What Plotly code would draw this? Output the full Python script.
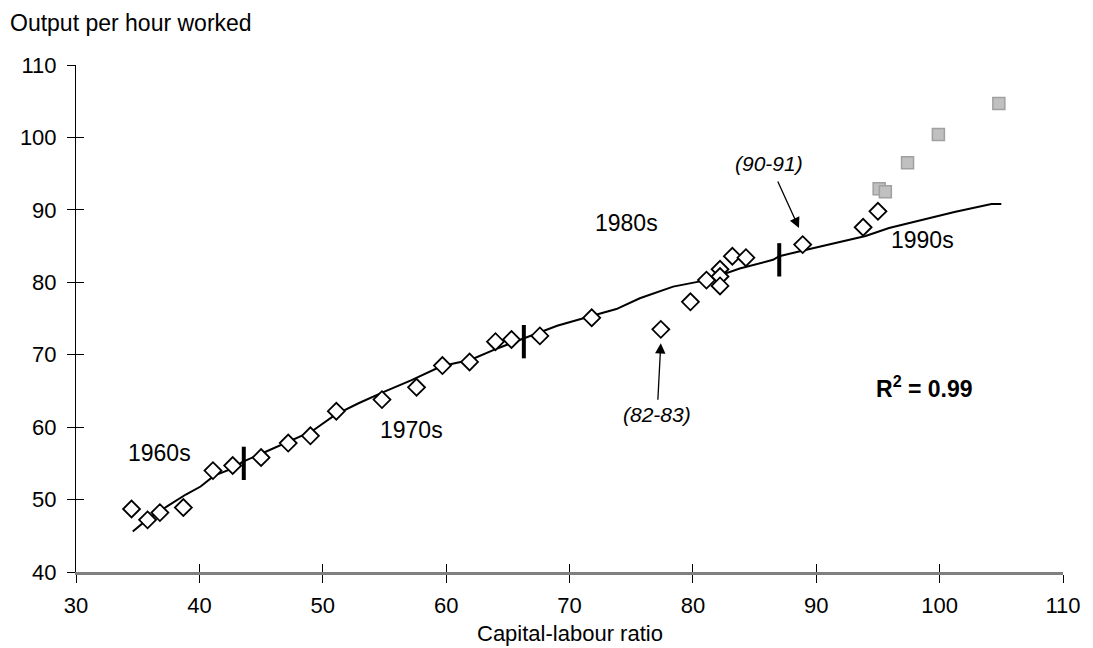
import plotly.graph_objects as go

# ---- data ----
diamond_x = [34.5, 35.8, 36.8, 38.7, 41.1, 42.7, 45.0, 47.2, 49.0, 51.1, 54.8, 57.6, 59.7, 61.9, 64.0,
             65.3, 67.6, 71.8, 77.4, 79.8, 81.1, 82.2, 82.2, 82.2, 83.2, 84.3, 88.9, 93.8, 95.0]
diamond_y = [48.7, 47.2, 48.2, 48.9, 54.0, 54.7, 55.8, 57.8, 58.8, 62.2, 63.8, 65.5, 68.5, 69.0, 71.8,
             72.1, 72.6, 75.1, 73.5, 77.3, 80.3, 81.8, 80.8, 79.5, 83.6, 83.4, 85.2, 87.6, 89.8]

square_x = [95.1, 95.6, 97.4, 99.9, 104.8]
square_y = [92.9, 92.5, 96.5, 100.4, 104.7]

trend_x = [34.6, 35.8, 37.6, 38.9, 40.1, 41.2, 42.7, 43.5, 45.1, 47.2, 49.1, 51.0, 52.9, 55.0, 57.2,
           59.6, 62.0, 64.2, 66.3, 69.0, 71.7, 73.8, 75.7, 78.4, 81.1, 83.8, 86.5, 87.0, 89.2, 91.8,
           94.0, 95.9, 98.6, 101.2, 104.2, 105.0]
trend_y = [45.6, 47.3, 49.3, 50.7, 51.8, 53.3, 54.3, 55.2, 56.4, 58.0, 59.4, 61.7, 63.3, 64.9, 66.5,
           68.4, 69.3, 70.9, 72.3, 74.0, 75.3, 76.3, 77.8, 79.4, 80.3, 81.9, 83.1, 83.6, 84.5, 85.5,
           86.4, 87.5, 88.6, 89.7, 90.8, 90.8]

sep_x = [43.6, 66.3, 87.0]
sep_y_low = [52.7, 69.5, 80.8]
sep_y_high = [57.3, 74.1, 85.4]

decade_labels = ["1960s", "1970s", "1980s", "1990s"]
decade_x = [36.8, 57.2, 74.6, 98.6]
decade_y = [56.4, 59.6, 88.2, 85.9]

x_ticks = [30, 40, 50, 60, 70, 80, 90, 100, 110]
y_ticks = [40, 50, 60, 70, 80, 90, 100, 110]

FONT = "Liberation Sans, Arial, sans-serif"

fig = go.Figure()

fig.add_trace(go.Scatter(x=trend_x, y=trend_y, mode="lines",
                         line=dict(color="black", width=2), hoverinfo="skip", showlegend=False))

sx, sy = [], []
for x, lo, hi in zip(sep_x, sep_y_low, sep_y_high):
    sx += [x, x, None]
    sy += [lo, hi, None]
fig.add_trace(go.Scatter(x=sx, y=sy, mode="lines", line=dict(color="black", width=4),
                         hoverinfo="skip", showlegend=False))

fig.add_trace(go.Scatter(x=diamond_x, y=diamond_y, mode="markers",
                         marker=dict(symbol="diamond", size=13, color="white",
                                     line=dict(color="black", width=1.8)),
                         showlegend=False))
fig.add_trace(go.Scatter(x=square_x, y=square_y, mode="markers",
                         marker=dict(symbol="square", size=12, color="#c0c0c0",
                                     line=dict(color="#a0a0a0", width=1.5)),
                         showlegend=False))

# invisible trace for the overlay axes that draw the inward half of the crossing ticks
fig.add_trace(go.Scatter(x=[30], y=[40], xaxis="x2", yaxis="y2", mode="markers",
                         marker=dict(opacity=0), hoverinfo="skip", showlegend=False))

for lab, x, y in zip(decade_labels, decade_x, decade_y):
    fig.add_annotation(x=x, y=y, text=lab, showarrow=False,
                       font=dict(size=23, color="black", family=FONT))

# italic labels with arrows (text sits at the arrow tail)
fig.add_annotation(x=77.4, y=71.6, ax=77.1, ay=61.7, axref="x", ayref="y", text="<i>(82-83)</i>",
                   showarrow=True, arrowhead=2, arrowsize=1.6, arrowwidth=1.3, arrowcolor="black",
                   startstandoff=2, font=dict(size=21, color="black", family=FONT))
fig.add_annotation(x=88.6, y=87.5, ax=86.2, ay=96.45, axref="x", ayref="y", text="<i>(90-91)</i>",
                   showarrow=True, arrowhead=2, arrowsize=1.6, arrowwidth=1.3, arrowcolor="black",
                   startstandoff=6, font=dict(size=21, color="black", family=FONT))

fig.add_annotation(x=98.8, y=65.6, text="<b>R<sup>2</sup> = 0.99</b>", showarrow=False,
                   font=dict(size=23, color="black", family=FONT))

fig.add_annotation(xref="paper", yref="paper", x=-0.0685, y=1.082, xanchor="left", yanchor="middle",
                   text="Output per hour worked", showarrow=False,
                   font=dict(size=23, color="black", family=FONT))
fig.add_annotation(xref="paper", yref="paper", x=0.5, y=-0.121, xanchor="center", yanchor="middle",
                   text="Capital-labour ratio", showarrow=False,
                   font=dict(size=22, color="black", family=FONT))

axis_common = dict(showgrid=False, zeroline=False)
fig.update_layout(
    width=1093, height=648,
    margin=dict(l=76, r=24, t=65, b=76),
    paper_bgcolor="white", plot_bgcolor="white",
    font=dict(family=FONT, size=22, color="black"),
    xaxis=dict(range=[30, 110], tickvals=x_ticks, ticks="outside", ticklen=8, tickwidth=1,
               tickcolor="black", showline=True, linecolor="#808080", linewidth=2.5,
               tickfont=dict(size=22), ticklabelstandoff=4, **axis_common),
    yaxis=dict(range=[40, 110], tickvals=y_ticks, ticks="outside", ticklen=8, tickwidth=1,
               tickcolor="black", showline=True, linecolor="black", linewidth=1,
               tickfont=dict(size=22), ticklabelstandoff=6, **axis_common),
    xaxis2=dict(range=[30, 110], tickvals=x_ticks, ticks="inside", ticklen=8, tickwidth=1,
                tickcolor="black", showticklabels=False, overlaying="x", anchor="y", side="bottom",
                showline=False, **axis_common),
    yaxis2=dict(range=[40, 110], tickvals=y_ticks, ticks="inside", ticklen=8, tickwidth=1,
                tickcolor="black", showticklabels=False, overlaying="y", anchor="x", side="left",
                showline=False, **axis_common),
)

fig.write_html("out.html")
